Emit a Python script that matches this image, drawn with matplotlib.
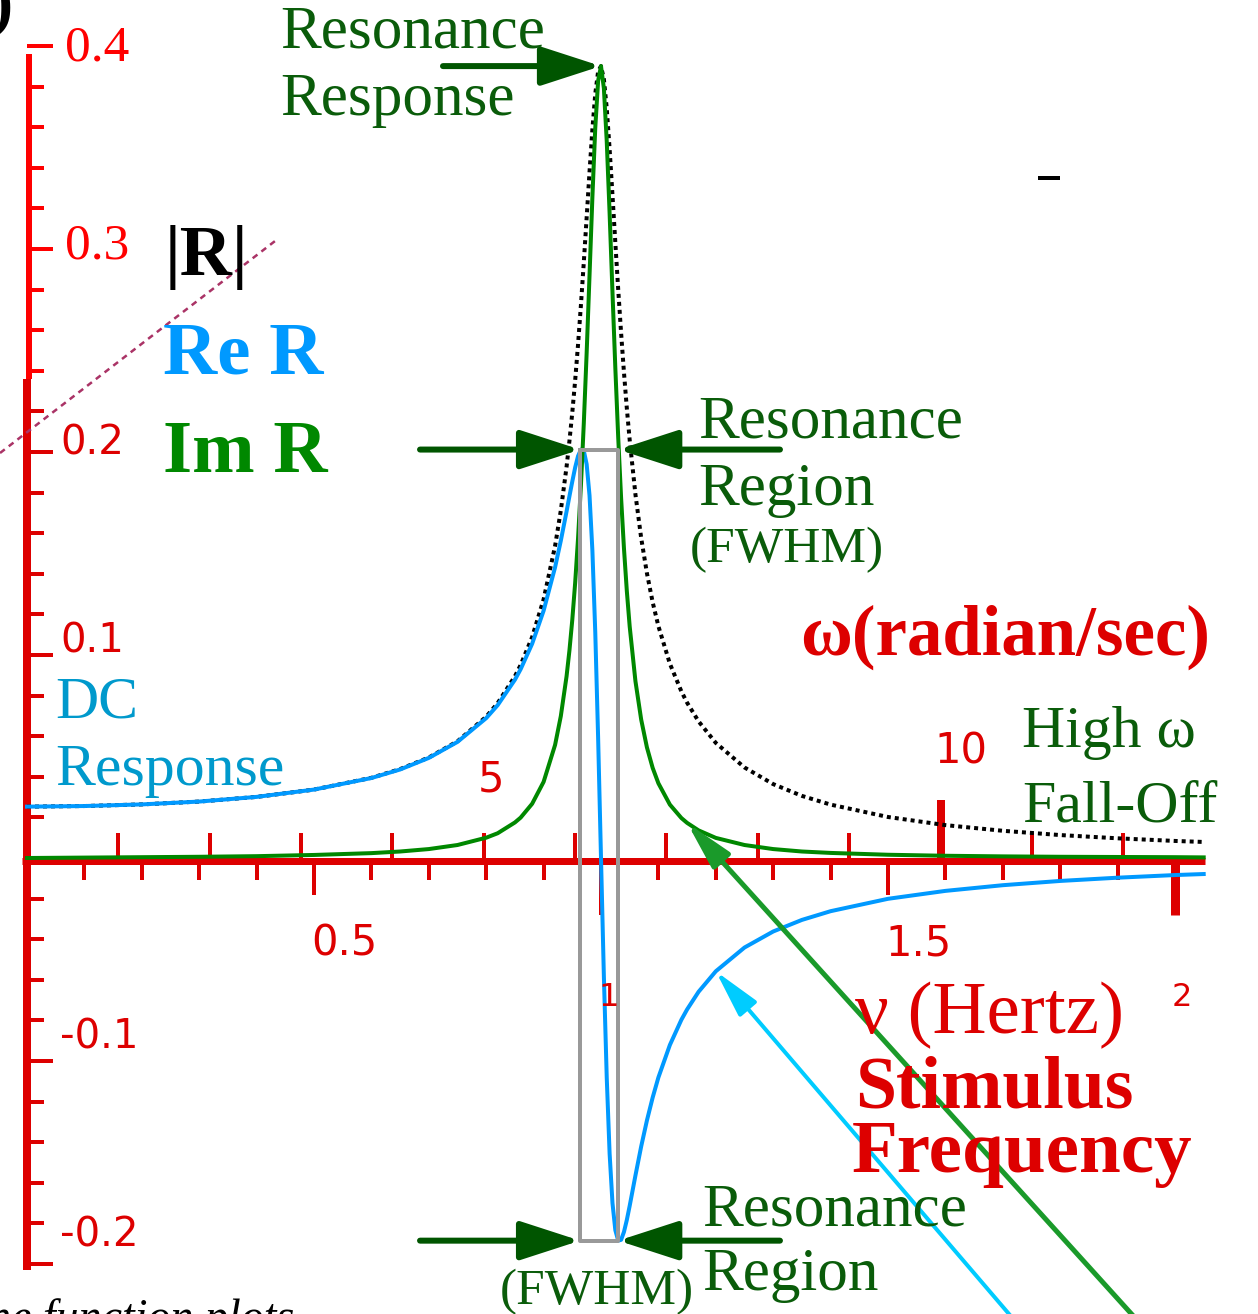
import math
import matplotlib
matplotlib.use('Agg')
import matplotlib.pyplot as plt
from matplotlib.lines import Line2D

# driven oscillator response R vs stimulus frequency nu (Hz)
nu = [0.0, 0.1, 0.2, 0.3, 0.4, 0.5, 0.6, 0.65, 0.7, 0.75, 0.8, 0.82, 0.85, 0.86,
      0.88, 0.9, 0.92, 0.93, 0.94, 0.945, 0.95, 0.955, 0.96, 0.965, 0.97, 0.975,
      0.98, 0.985, 0.99, 0.995, 1.0, 1.005, 1.01, 1.015, 1.02, 1.025, 1.03, 1.035,
      1.04, 1.045, 1.05, 1.06, 1.07, 1.08, 1.09, 1.1, 1.12, 1.14, 1.15, 1.17, 1.2,
      1.25, 1.3, 1.35, 1.4, 1.5, 1.6, 1.7, 1.8, 1.9, 2.0, 2.05]

re_r = [0.0253, 0.0256, 0.0264, 0.0278, 0.0301, 0.0337, 0.0394, 0.0436, 0.0493,
        0.0572, 0.0689, 0.0753, 0.0878, 0.0930, 0.1055, 0.1218, 0.1432, 0.1563,
        0.1707, 0.1782, 0.1855, 0.1924, 0.1980, 0.2012, 0.2007, 0.1940, 0.1786,
        0.1515, 0.1113, 0.0591, 0.0, -0.0583, -0.1082, -0.1456, -0.1700, -0.1834,
        -0.1885, -0.1881, -0.1842, -0.1783, -0.1713, -0.1564, -0.1421, -0.1293,
        -0.1180, -0.1081, -0.0921, -0.0797, -0.0746, -0.0659, -0.0558, -0.0441,
        -0.0362, -0.0305, -0.0262, -0.0201, -0.0162, -0.0134, -0.0113, -0.0097,
        -0.0084, -0.0079]

im_r = [0.0, 0.0002, 0.0004, 0.0006, 0.0009, 0.0015, 0.0024, 0.0032, 0.0044,
        0.0064, 0.0100, 0.0122, 0.0175, 0.0199, 0.0267, 0.0375, 0.0557, 0.0699,
        0.0895, 0.1022, 0.1174, 0.1356, 0.1574, 0.1834, 0.2139, 0.2488, 0.2869,
        0.3255, 0.3596, 0.3829, 0.3901, 0.3792, 0.3531, 0.3175, 0.2787, 0.2411,
        0.2071, 0.1775, 0.1525, 0.1315, 0.1140, 0.0871, 0.0682, 0.0545, 0.0444,
        0.0368, 0.0263, 0.0197, 0.0173, 0.0136, 0.0099, 0.0064, 0.0044, 0.0032,
        0.0025, 0.0016, 0.0011, 0.0008, 0.0006, 0.0005, 0.0004, 0.0003]

abs_r = [0.0253, 0.0256, 0.0264, 0.0278, 0.0301, 0.0337, 0.0395, 0.0438, 0.0495,
         0.0575, 0.0696, 0.0763, 0.0895, 0.0951, 0.1088, 0.1274, 0.1537, 0.1712,
         0.1927, 0.2054, 0.2195, 0.2353, 0.2529, 0.2723, 0.2933, 0.3155, 0.3380,
         0.3590, 0.3764, 0.3875, 0.3901, 0.3837, 0.3693, 0.3493, 0.3265, 0.3029,
         0.2800, 0.2587, 0.2392, 0.2215, 0.2058, 0.1791, 0.1576, 0.1403, 0.1260,
         0.1142, 0.0957, 0.0821, 0.0765, 0.0673, 0.0567, 0.0446, 0.0364, 0.0306,
         0.0263, 0.0202, 0.0162, 0.0134, 0.0113, 0.0097, 0.0084, 0.0079]

# resonance region (FWHM) edges, Hz
fwhm_lo = 0.9635
fwhm_hi = 1.03

# axis ticks and labels
y_ticks = [round(-0.2 + 0.02 * k, 2) for k in range(31)]
y_labels = ['0.4', '0.3', '0.2', '0.1', '-0.1', '-0.2']
hz_ticks = [round(0.1 * k, 1) for k in range(1, 21)]
hz_labels = ['0.5', '1', '1.5', '2']
omega_ticks = list(range(1, 13))
omega_labels = ['5', '10']

W, H = 1258, 1314
PX = 1 / 574.0      # Hz per pixel
PY = 1 / 2030.0     # R units per pixel
LW = 0.72           # points per pixel

SERIF = 'Liberation Serif'
RED = '#dd0000'
DKGREEN = '#0a5c0a'

fig = plt.figure(figsize=(W / 100, H / 100), dpi=100)
ax = fig.add_axes([0, 0, 1, 1])
ax.set_xlim(-27 * PX, 1231 * PX)
ax.set_ylim(-456 * PY, 858 * PY)
ax.axis('off')

# vertical (response) axis
ax.plot([0, 0], [-0.203, 0.236], color=RED, lw=8 * LW, solid_capstyle='butt')
ax.plot([2 * PX, 2 * PX], [0.236, 0.396], color='#ff0000', lw=6 * LW,
        solid_capstyle='butt')
for v in y_ticks:
    major = abs(v * 10 - round(v * 10)) < 1e-6
    c = '#ff0000' if v > 0.236 else RED
    ax.plot([0, (26 if major else 17) * PX], [v, v], color=c, lw=4 * LW,
            solid_capstyle='butt')

for s in y_labels:
    v = float(s)
    fam = SERIF if v > 0.25 else 'DejaVu Sans'
    size = 37 if v > 0.25 else 29
    xo = 38 if v > 0.25 else 33
    ax.text(xo * PX, 0.975 * v + 0.009, s, color=RED if v < 0.25 else '#ff0000',
            fontsize=size, family=fam, ha='left', va='center')

# horizontal (frequency) axis
ax.plot([-5 * PX, 2.052], [-3 * PY, -3 * PY], color=RED, lw=7 * LW,
        solid_capstyle='butt')
for v in hz_ticks:
    if abs(v - round(v)) < 1e-6:
        ln, w = 57, 4
    elif abs(v * 2 - round(v * 2)) < 1e-6:
        ln, w = 37, 4
    else:
        ln, w = 22, 4
    if v == 2.0:
        w = 9
    ax.plot([v, v], [0, -ln * PY], color=RED, lw=w * LW, solid_capstyle='butt')

for om in omega_ticks:
    x = om / (2 * math.pi)
    ln, w = (58, 8) if om == 10 else (25, 4)
    ax.plot([x, x], [0, ln * PY], color=RED, lw=w * LW, solid_capstyle='butt')

for s in hz_labels:
    v = float(s)
    whole = abs(v - round(v)) < 1e-6
    ax.text(v - 3 * PX, -(140 if whole else 85) * PY, s, color=RED,
            fontsize=23 if whole else 30, family='DejaVu Sans',
            ha='left', va='center')

for s in omega_labels:
    om = float(s)
    ax.text(om / (2 * math.pi) - 6 * PX, (78 if om < 8 else 106) * PY, s,
            color=RED, fontsize=30, family='DejaVu Sans', ha='left', va='center')

# response curves
ax.plot(nu, abs_r, color='black', lw=4 * LW, linestyle=(0, (1, 1)),
        dash_capstyle='butt')
ax.plot(nu, re_r, color='#0099ff', lw=4 * LW)
ax.plot(nu, im_r, color='#008800', lw=4 * LW)

# FWHM box
re_max, re_min = max(re_r), min(re_r)
ax.plot([fwhm_lo, fwhm_lo, fwhm_hi, fwhm_hi, fwhm_lo],
        [re_max, re_min, re_min, re_max, re_max], color='#999999', lw=4 * LW)


def fat_arrow(x0, y0, x1, y1):
    ax.annotate('', xy=(x1, y1), xytext=(x0, y0),
                arrowprops=dict(arrowstyle='-|>,head_length=3.7,head_width=1.2',
                                mutation_scale=10, lw=6 * LW, color='#005500',
                                shrinkA=0, shrinkB=0))


peak = max(im_r)
nu_peak = nu[im_r.index(peak)]
fat_arrow(0.7247, peak, nu_peak, peak)
fat_arrow(0.6847, re_max, fwhm_lo, re_max)
fat_arrow(1.3118, re_max, fwhm_hi, re_max)
fat_arrow(0.6847, re_min, fwhm_lo, re_min)
fat_arrow(1.3118, re_min, fwhm_hi, re_min)

# pointers to the high frequency tails
i_im = nu.index(1.15)
ax.annotate('', xy=(nu[i_im], im_r[i_im]), xytext=(1.935, -0.228),
            arrowprops=dict(arrowstyle='-|>,head_length=2.9,head_width=0.7',
                            mutation_scale=10, lw=5 * LW, color='#1a9a2a',
                            shrinkA=0, shrinkB=0))
i_re = nu.index(1.2)
ax.annotate('', xy=(nu[i_re], re_r[i_re]), xytext=(1.721, -0.228),
            arrowprops=dict(arrowstyle='-|>,head_length=2.9,head_width=0.7',
                            mutation_scale=10, lw=4 * LW, color='#00ccff',
                            shrinkA=0, shrinkB=0))

# dashed guide line at the upper left
ax.plot([-0.047, 0.432], [0.1995, 0.3039], color='#aa3366', lw=2.5 * LW,
        dashes=(2.4, 2.0))


def label(xp, yp, s, size, color, weight='normal', style='normal'):
    fig.text(xp / W, 1 - yp / H, s, fontsize=size, color=color, family=SERIF,
             fontweight=weight, fontstyle=style, ha='left', va='baseline')


label(280, 48, 'Resonance', 44, DKGREEN)
label(280, 115, 'Response', 44, DKGREEN)
label(165, 275, '|R|', 52, 'black', weight='bold')
label(163, 373, 'Re R', 54, '#0099ff', weight='bold')
label(163, 472, 'Im R', 54, '#008800', weight='bold')
label(55, 718, 'DC', 43, '#0099cc')
label(55, 785, 'Response', 43, '#0099cc')
label(698, 437, 'Resonance', 44, DKGREEN)
label(698, 505, 'Region', 44, DKGREEN)
label(690, 562, '(FWHM)', 37, DKGREEN)
label(800, 655, 'ω(radian/sec)', 51, RED, weight='bold')
label(1022, 747, 'High ω', 43, DKGREEN)
label(1022, 822, 'Fall-Off', 43, DKGREEN)
label(855, 1033, 'ν (Hertz)', 54, RED)
label(855, 1108, 'Stimulus', 53, RED, weight='bold')
label(852, 1172, 'Frequency', 54, RED, weight='bold')
label(702, 1225, 'Resonance', 44, DKGREEN)
label(702, 1290, 'Region', 44, DKGREEN)
label(500, 1304, '(FWHM)', 37, DKGREEN)
label(-12, 1331, 'ne function plots', 33, 'black', style='italic')
label(-9, 24, ')', 48, 'black', weight='bold')

fig.add_artist(Line2D([1040 / W, 1058 / W], [1 - 178 / H, 1 - 178 / H],
                      color='black', lw=4 * LW))

fig.savefig('out.png', dpi=100)
